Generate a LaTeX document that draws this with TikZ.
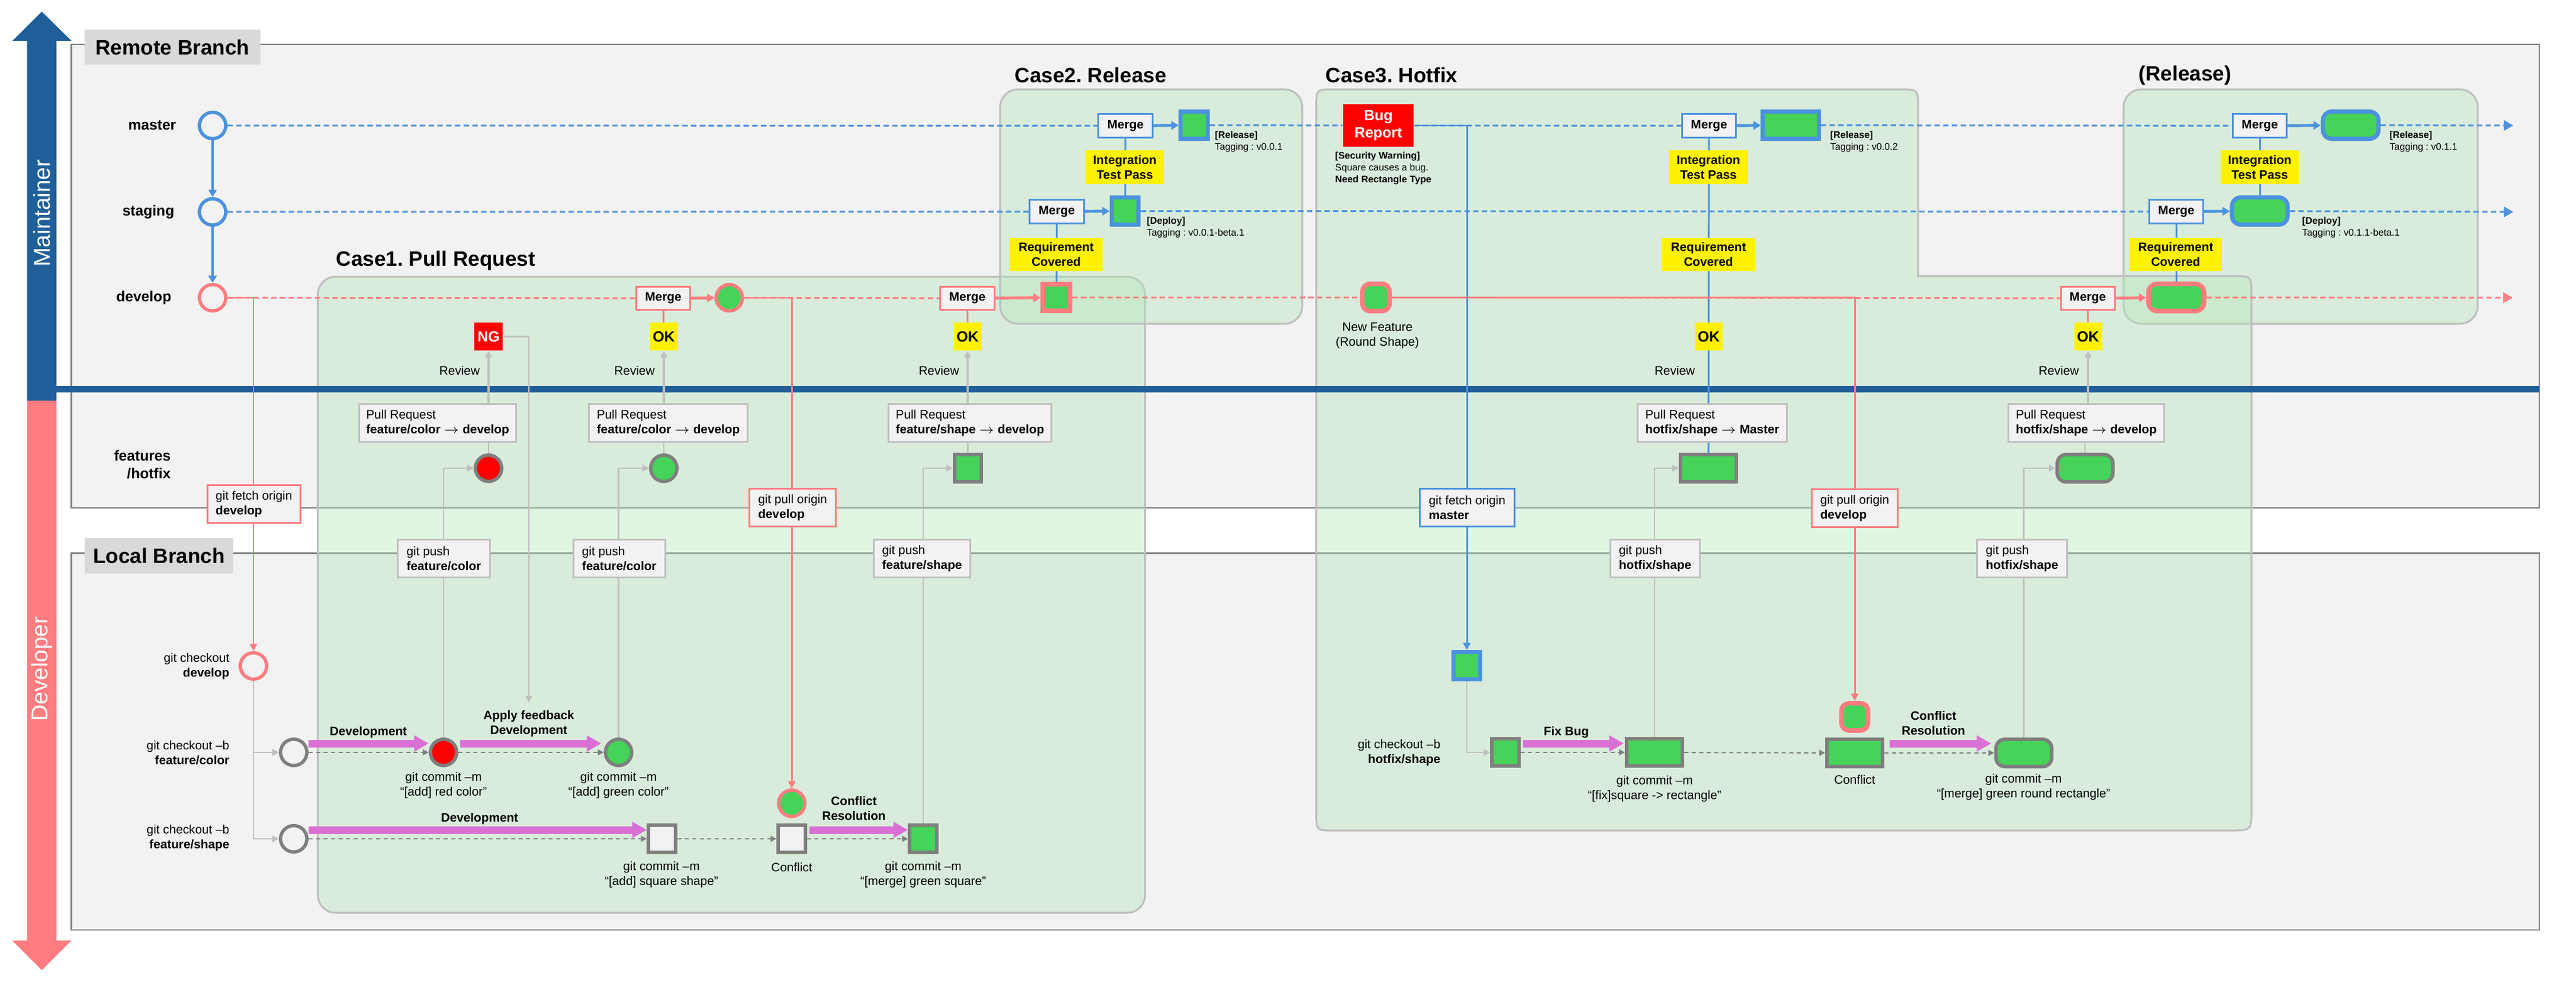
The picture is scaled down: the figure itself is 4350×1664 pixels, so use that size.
\documentclass[tikz,border=0pt]{standalone}
\usepackage{fontspec}
\setmainfont{Liberation Sans}
\usetikzlibrary{arrows.meta,calc}
\frenchspacing
\pgfdeclarelayer{frames}
\pgfdeclarelayer{cases}
\pgfdeclarelayer{lines}
\pgfsetlayers{frames,cases,lines,main}
\definecolor{mblue}{RGB}{33,95,154}
\definecolor{pinkA}{RGB}{255,124,128}
\definecolor{blueL}{RGB}{76,146,222}
\definecolor{greenF}{RGB}{69,211,90}
\definecolor{ngray}{RGB}{127,127,127}
\definecolor{lgray}{RGB}{191,191,191}
\definecolor{panel}{RGB}{242,242,242}
\definecolor{labelgray}{RGB}{217,217,217}
\definecolor{orchidA}{RGB}{218,112,214}
\definecolor{caseG}{RGB}{180,229,185}
\newcommand{\fzA}{\fontsize{5.9}{7.1}\selectfont}
\newcommand{\fzL}{\fontsize{7}{8.5}\selectfont}
\newcommand{\fzT}{\fontsize{10}{12}\selectfont}
\newcommand{\fzS}{\fontsize{4.6}{5.7}\selectfont}
\newcommand{\fzO}{\fontsize{7.1}{8.3}\selectfont}
\newcommand{\fzM}{\fontsize{11}{13}\selectfont}
\tikzset{
 lanelbl/.style={font=\fzL\bfseries, anchor=east, align=right, inner sep=0pt},
 cmdlbl/.style={font=\fzA, anchor=east, align=right, inner sep=0pt},
 txt/.style={font=\fzA, inner sep=0pt, align=center},
 btxt/.style={font=\fzA\bfseries, inner sep=0pt, align=center},
 smalltxt/.style={font=\fzS, inner sep=0pt, align=left, anchor=west},
 casetitle/.style={font=\fzT\bfseries, inner sep=0pt, anchor=west},
 mergebox/.style={rectangle, fill=panel, line width=0.85pt, minimum width=0.91cm, minimum height=0.39cm, font=\fzA\bfseries, inner sep=0pt},
 yel/.style={rectangle, fill=yellow, inner sep=0pt, font=\fzA\bfseries, align=center},
 okbox/.style={rectangle, fill=yellow, inner sep=0pt, font=\fzO\bfseries, minimum width=0.47cm, minimum height=0.47cm},
 cmdbox/.style={rectangle, fill=panel, line width=0.85pt, inner sep=0pt, minimum height=0.64cm, align=left, font=\fzA},
 cnode/.style={circle, minimum size=0.445cm, line width=1.6pt, inner sep=0pt},
 sqnode/.style={rectangle, minimum width=0.455cm, minimum height=0.455cm, inner sep=0pt, line width=1.7pt},
 rctnode/.style={rectangle, minimum width=0.94cm, minimum height=0.46cm, inner sep=0pt, line width=1.7pt},
 rrnode/.style={rctnode, rounded corners=0.15cm},
 bluebd/.style={draw=blueL, line width=2pt},
 pinkbd/.style={draw=pinkA, line width=2.2pt},
 graybd/.style={draw=ngray, line width=1.7pt},
 casebox/.style={draw=lgray, line width=0.9pt, fill=caseG, fill opacity=0.4},
 tipS/.style={-{Triangle[length=3.5pt,width=3.5pt]}},
 tipE/.style={-{Triangle[length=4.5pt,width=5pt]}},
 bdash/.style={draw=blueL, line width=0.85pt, dash pattern=on 2.6pt off 1.6pt},
 pdash/.style={draw=pinkA, line width=0.85pt, dash pattern=on 2.6pt off 1.6pt},
 bline/.style={draw=blueL, line width=0.85pt},
 pline/.style={draw=pinkA, line width=0.85pt},
 barrow/.style={draw=blueL, line width=1.4pt, -{Triangle[length=3.5pt,width=4pt]}},
 parrow/.style={draw=pinkA, line width=1.4pt, -{Triangle[length=3.5pt,width=4pt]}},
 gline/.style={draw=lgray, line width=0.7pt},
 garrow/.style={draw=lgray, line width=0.7pt, -{Triangle[length=3.2pt,width=3.2pt]}},
 gdash/.style={draw=ngray, line width=0.6pt, dash pattern=on 2pt off 1.6pt, -{Triangle[length=2.8pt,width=2.8pt]}},
 devarrow/.style={draw=orchidA, line width=3.7pt, -{Triangle[length=7pt,width=7.4pt]}}
}
\begin{document}
\begin{tikzpicture}[x=0.01cm,y=-0.01cm]
\useasboundingbox (0,0) rectangle (4350,1664);

% ---------- frames ----------
\begin{pgfonlayer}{frames}
\draw[draw=ngray, line width=0.8pt, fill=panel] (120.7,75) rectangle (4288,858);
\draw[draw=ngray, line width=0.8pt, fill=panel] (120.7,934.5) rectangle (4288,1571);
\fill[mblue] (45.6,677) -- (45.6,69) -- (21,69) -- (70.5,19.6) -- (120.7,69) -- (95.4,69) -- (95.4,677) -- cycle;
\fill[pinkA] (45.6,677) -- (45.6,1589) -- (21,1589) -- (70.5,1639) -- (120.7,1589) -- (95.4,1589) -- (95.4,677) -- cycle;
\end{pgfonlayer}
\node[rotate=90, text=white, font=\fzM, inner sep=0pt] (mtxt) at (70.5,360) {Maintainer};
\node[rotate=90, text=white, font=\fzM, inner sep=0pt] (dtxt) at (70.5,1130) {Developer};
\node[fill=labelgray, minimum width=2.97cm, minimum height=0.59cm, font=\fzT\bfseries, inner sep=0pt] (rbl) at (291.5,79.5) {Remote Branch};
\node[fill=labelgray, minimum width=2.51cm, minimum height=0.60cm, font=\fzT\bfseries, inner sep=0pt] (lbl) at (268.5,939) {Local Branch};

% ---------- case boxes ----------
\begin{pgfonlayer}{cases}
\path[casebox, rounded corners=0.3cm] (536.7,467.4) rectangle (1933.6,1542);
\path[casebox, rounded corners=0.3cm] (1689,151) rectangle (2199,547);
\path[casebox, rounded corners=0.3cm] (3586,151) rectangle (4184,547);
\path[casebox] (2222.7,181) .. controls (2222.7,151) .. (2252.7,151)
  -- (3209,151) .. controls (3239,151) .. (3239,181)
  -- (3239,466.5) -- (3772,466.5) .. controls (3802,466.5) .. (3802,496.5)
  -- (3802,1366) .. controls (3802,1403) .. (3765,1403)
  -- (2252.7,1403) .. controls (2222.7,1403) .. (2222.7,1373) -- cycle;
\end{pgfonlayer}
\node[casetitle] (t1) at (567,440) {Case1. Pull Request};
\node[casetitle] (t2) at (1713,127) {Case2. Release};
\node[casetitle] (t3) at (2238,127) {Case3. Hotfix};
\node[casetitle] (t4) at (3611,127) {(Release)};

% ---------- remote lanes ----------
\node[cnode, draw=blueL, fill=panel] (mC) at (359,212) {};
\node[cnode, draw=blueL, fill=panel] (sC) at (359,358) {};
\node[cnode, draw=pinkA, fill=panel] (dC) at (359,503) {};
\node[lanelbl] (mL) at (298,212) {master};
\node[lanelbl] (sL) at (295,358) {staging};
\node[lanelbl] (dL) at (290,503) {develop};
\node[lanelbl] (fL) at (289,785) {features\\/hotfix};
\coordinate (mEnd) at (4244,212);
\coordinate (sEnd) at (4244,358);
\coordinate (dEnd) at (4243,503);

% ---------- case 1 ----------
\node[mergebox, draw=pinkA] (m1) at (1120,504) {Merge};
\node[okbox] (ok1) at (1121,568.5) {OK};
\node[txt] (rv1) at (1071.5,626) {Review};
\node[cnode, draw=pinkA, fill=greenF] (g1) at (1231.5,503) {};
\node[mergebox, draw=pinkA] (m2) at (1633.5,504) {Merge};
\node[okbox] (ok2) at (1634,568.5) {OK};
\node[txt] (rv2) at (1585.5,626) {Review};
\node[rectangle, fill=red, text=white, minimum width=0.48cm, minimum height=0.47cm, font=\fzO\bfseries, inner sep=0pt] (ng) at (825,568.5) {NG};
\node[txt] (rv0) at (776,626) {Review};
\node[cmdbox, draw=lgray, minimum width=2.65cm] (pr1) at (739,714.5) {Pull Request\\\textbf{feature/color $\rightarrow$ develop}};
\node[cmdbox, draw=lgray, minimum width=2.68cm] (pr2) at (1128.5,714.5) {Pull Request\\\textbf{feature/color $\rightarrow$ develop}};
\node[cmdbox, draw=lgray, minimum width=2.755cm] (pr3) at (1638,714.5) {Pull Request\\\textbf{feature/shape $\rightarrow$ develop}};
\node[cnode, draw=ngray, fill=red] (fc1) at (825,791) {};
\node[cnode, draw=ngray, fill=greenF] (fc2) at (1121,791) {};
\node[sqnode, graybd, fill=greenF] (fs3) at (1634.5,791) {};
\node[cmdbox, draw=pinkA, minimum width=1.57cm] (fe1) at (428.8,851.5) {git fetch origin\\\textbf{develop}};
\node[cmdbox, draw=pinkA, minimum width=1.46cm] (pl1) at (1338.5,857.5) {git pull origin\\\textbf{develop}};
\node[cmdbox, draw=lgray, minimum width=1.55cm] (ps1) at (749.5,943.6) {git push\\\textbf{feature/color}};
\node[cmdbox, draw=lgray, minimum width=1.55cm] (ps2) at (1045.7,943.6) {git push\\\textbf{feature/color}};
\node[cmdbox, draw=lgray, minimum width=1.63cm] (ps3) at (1557,943.6) {git push\\\textbf{feature/shape}};

\node[cnode, draw=pinkA, fill=panel] (cd) at (428,1125) {};
\node[cmdlbl] (cdl) at (388,1125.5) {git checkout\\\textbf{develop}};
\node[cnode, draw=ngray, fill=panel] (sc) at (496,1271) {};
\node[cnode, draw=ngray, fill=panel] (ss) at (496,1417) {};
\node[cmdlbl] (scl) at (388,1272) {git checkout –b\\\textbf{feature/color}};
\node[cmdlbl] (ssl) at (388,1416) {git checkout –b\\\textbf{feature/shape}};
\node[cnode, draw=ngray, fill=red] (rc) at (749,1271) {};
\node[txt] (rcl) at (749,1326.5) {git commit –m\\“[add] red color”};
\node[cnode, draw=ngray, fill=greenF] (gc) at (1044.5,1271) {};
\node[txt] (gcl) at (1044.5,1326.5) {git commit –m\\“[add] green color”};
\node[sqnode, graybd, fill=panel] (wsq) at (1118,1417) {};
\node[txt] (wsql) at (1117,1477.5) {git commit –m\\“[add] square shape”};
\node[sqnode, graybd, fill=panel] (cf1) at (1337,1417) {};
\node[txt] (cf1l) at (1337,1465) {Conflict};
\node[cnode, draw=pinkA, fill=greenF] (pg) at (1337,1357) {};
\node[sqnode, graybd, fill=greenF] (gsq) at (1559,1417) {};
\node[txt] (gsql) at (1559,1477.5) {git commit –m\\“[merge] green square”};
\node[btxt] (a1) at (622,1237) {Development};
\node[btxt] (a2) at (893,1223) {Apply feedback\\Development};
\node[btxt] (a3) at (810,1383) {Development};
\node[btxt] (a4) at (1442,1365.5) {Conflict\\Resolution};
\coordinate (fbEnd) at (893,1187);

% ---------- case 2 ----------
\node[mergebox, draw=blueL] (mm2) at (1900.5,212.5) {Merge};
\node[sqnode, bluebd, fill=greenF] (rel2) at (2016.5,211.5) {};
\node[yel, minimum width=1.33cm, minimum height=0.57cm] (itp2) at (1899.5,282.5) {Integration\\Test Pass};
\node[mergebox, draw=blueL] (ms2) at (1784.5,357.5) {Merge};
\node[sqnode, bluebd, fill=greenF] (dep2) at (1900,356.5) {};
\node[yel, minimum width=1.57cm, minimum height=0.565cm] (rq2) at (1783.5,430) {Requirement\\Covered};
\node[sqnode, pinkbd, fill=greenF] (dv2) at (1784,502.5) {};
\node[smalltxt] (tg2) at (2051,239) {\textbf{[Release]}\\Tagging : v0.0.1};
\node[smalltxt] (tg2b) at (1936,384) {\textbf{[Deploy]}\\Tagging : v0.0.1-beta.1};

% ---------- case 3 ----------
\node[rectangle, fill=red, text=white, minimum width=1.19cm, minimum height=0.72cm, font=\fzO\bfseries, align=center, inner sep=0pt] (bug) at (2327.5,212) {Bug\\Report};
\node[smalltxt] (sec) at (2254,284) {\textbf{[Security Warning]}\\Square causes a bug.\\\textbf{Need Rectangle Type}};
\node[rrnode, pinkbd, fill=greenF, minimum width=0.46cm, minimum height=0.46cm, rounded corners=0.13cm] (nf) at (2323.6,502.5) {};
\node[txt] (nfl) at (2326,567) {New Feature\\(Round Shape)};
\node[mergebox, draw=blueL] (mm3) at (2886,212.5) {Merge};
\node[rctnode, bluebd, fill=greenF] (rel3) at (3024,211.5) {};
\node[smalltxt] (tg3) at (3090,239) {\textbf{[Release]}\\Tagging : v0.0.2};
\node[yel, minimum width=1.34cm, minimum height=0.57cm] (itp3) at (2885,282.5) {Integration\\Test Pass};
\node[yel, minimum width=1.575cm, minimum height=0.565cm] (rq3) at (2885,430) {Requirement\\Covered};
\node[okbox] (ok3) at (2885.5,568.5) {OK};
\node[txt] (rv3) at (2828,626) {Review};
\node[cmdbox, draw=lgray, minimum width=2.52cm] (pr4) at (2891.5,714.5) {Pull Request\\\textbf{hotfix/shape $\rightarrow$ Master}};
\node[rctnode, graybd, fill=greenF] (fr3) at (2885,791) {};
\node[cmdbox, draw=blueL, minimum width=1.60cm] (fe3) at (2477.5,857.5) {git fetch origin\\\textbf{master}};
\node[sqnode, bluebd, fill=greenF] (bsq) at (2477,1124.5) {};
\node[sqnode, graybd, fill=greenF] (hs) at (2542,1271) {};
\node[cmdlbl] (hsl) at (2433,1272) {git checkout –b\\\textbf{hotfix/shape}};
\node[rctnode, graybd, fill=greenF] (cr3) at (2794,1271) {};
\node[txt] (cr3l) at (2794,1332.5) {git commit –m\\“[fix]square -> rectangle”};
\node[cmdbox, draw=lgray, minimum width=1.51cm] (ps4) at (2795,943.6) {git push\\\textbf{hotfix/shape}};
\node[cmdbox, draw=pinkA, minimum width=1.45cm] (pl3) at (3132,858.7) {git pull origin\\\textbf{develop}};
\node[rrnode, pinkbd, fill=greenF, minimum width=0.45cm, minimum height=0.46cm, rounded corners=0.13cm] (prs) at (3132,1211) {};
\node[rctnode, graybd, fill=greenF] (cfr) at (3132,1272) {};
\node[txt] (cfrl) at (3132,1316.7) {Conflict};
\node[rrnode, graybd, fill=greenF] (mr) at (3417.5,1272) {};
\node[txt] (mrl) at (3417,1329.5) {git commit –m\\“[merge] green round rectangle”};
\node[cmdbox, draw=lgray, minimum width=1.52cm] (ps5) at (3414.5,943.6) {git push\\\textbf{hotfix/shape}};
\node[cmdbox, draw=lgray, minimum width=2.63cm] (pr5) at (3523,714.5) {Pull Request\\\textbf{hotfix/shape $\rightarrow$ develop}};
\node[rrnode, graybd, fill=greenF] (fr5) at (3521,791) {};
\node[btxt] (a5) at (2645,1237) {Fix Bug};
\node[btxt] (a6) at (3265,1222) {Conflict\\Resolution};

% ---------- release (4) ----------
\node[mergebox, draw=blueL] (mm4) at (3816,212.5) {Merge};
\node[rrnode, bluebd, fill=greenF] (rel4) at (3969.5,211.5) {};
\node[smalltxt] (tg4) at (4034.6,239) {\textbf{[Release]}\\Tagging : v0.1.1};
\node[yel, minimum width=1.326cm, minimum height=0.57cm] (itp4) at (3816,282.5) {Integration\\Test Pass};
\node[mergebox, draw=blueL] (ms4) at (3675,357.5) {Merge};
\node[rrnode, bluebd, fill=greenF] (dep4) at (3816,356.5) {};
\node[smalltxt] (tg4b) at (3887,384) {\textbf{[Deploy]}\\Tagging : v0.1.1-beta.1};
\node[yel, minimum width=1.56cm, minimum height=0.565cm] (rq4) at (3674,430) {Requirement\\Covered};
\node[rrnode, pinkbd, fill=greenF] (dv4) at (3675,502.5) {};
\node[mergebox, draw=pinkA] (m5) at (3525.5,504) {Merge};
\node[okbox] (ok5) at (3526,568.5) {OK};
\node[txt] (rv5) at (3476.5,626) {Review};

% ---------- connectors ----------
\begin{pgfonlayer}{lines}
\fill[mblue] (95.4,652) rectangle (4288,663);
% master / staging
\draw[barrow] (mC) -- (sC);
\draw[barrow] (sC) -- (dC);
\draw[bdash] (mC) -- (mm2);
\draw[barrow] (mm2) -- (rel2);
\draw[bdash] (rel2) -- (bug);
\draw[bdash] (bug) -- (mm3);
\draw[barrow] (mm3) -- (rel3);
\draw[bdash] (rel3) -- (mm4);
\draw[barrow] (mm4) -- (rel4);
\draw[bdash, tipE] (rel4) -- (mEnd);
\draw[bdash] (sC) -- (ms2);
\draw[barrow] (ms2) -- (dep2);
\draw[bdash] (dep2) -- (ms4);
\draw[barrow] (ms4) -- (dep4);
\draw[bdash, tipE] (dep4) -- (sEnd);
\draw[bline] (mm2) -- (dep2);
\draw[bline] (ms2) -- (dv2);
\draw[bline] (mm3) -- (fr3);
\draw[bline] (mm4) -- (dep4);
\draw[bline] (ms4) -- (dv4);
\draw[bline, tipS] (bug.east) -| (bsq.north);
% develop
\draw[pdash] (dC) -- (m1);
\draw[pline, tipS] (dC.east) -| (cd.north);
\draw[parrow] (m1) -- (g1);
\draw[pdash] (g1) -- (m2);
\draw[pline, tipS] (g1.east) -| (pg.north);
\draw[parrow] (m2) -- (dv2);
\draw[pdash] (dv2) -- (nf);
\draw[pdash] (nf) -- (m5);
\draw[pline, tipS] (nf.east) -| (prs.north);
\draw[parrow] (m5) -- (dv4);
\draw[pdash, tipE] (dv4) -- (dEnd);
\draw[pline] (m1) -- (ok1);
\draw[pline] (m2) -- (ok2);
\draw[pline] (m5) -- (ok5);
% review / pull requests
\draw[garrow, line width=0.9pt] (pr1.north -| ng) -- (ng.south);
\draw[garrow, line width=0.9pt] (pr2.north -| ok1) -- (ok1.south);
\draw[garrow, line width=0.9pt] (pr3.north -| ok2) -- (ok2.south);
\draw[garrow, line width=0.9pt] (pr5.north -| ok5) -- (ok5.south);
\draw[gline] (pr1.south -| fc1) -- (fc1.north);
\draw[gline] (pr2.south -| fc2) -- (fc2.north);
\draw[gline] (pr3.south -| fs3) -- (fs3.north);
\draw[gline] (pr5.south -| fr5) -- (fr5.north);
\draw[garrow] (ng.east) -| (fbEnd);
% pushes
\draw[garrow] (rc.north) |- (fc1.west);
\draw[garrow] (gc.north) |- (fc2.west);
\draw[garrow] (gsq.north) |- (fs3.west);
\draw[garrow] (cr3.north) |- (fr3.west);
\draw[garrow] (mr.north) |- (fr5.west);
% local
\draw[garrow] (cd.south) |- (sc.west);
\draw[garrow] (cd.south) |- (ss.west);
\draw[garrow] (bsq.south) |- (hs.west);
\draw[gdash] (sc) -- (rc);
\draw[gdash] (rc) -- (gc);
\draw[gdash] (ss) -- (wsq);
\draw[gdash] (wsq) -- (cf1);
\draw[gdash] (cf1) -- (gsq);
\draw[gdash] (hs) -- (cr3);
\draw[gdash] (cr3) -- (cfr);
\draw[gdash] (cfr) -- (mr);
\draw[devarrow] ($(sc.east)+(0,-15)$) -- ($(rc.west)+(0,-15)$);
\draw[devarrow] ($(rc.east)+(3,-15)$) -- ($(gc.west)+(-4,-15)$);
\draw[devarrow] ($(ss.east)+(0,-15)$) -- ($(wsq.west)+(0,-15)$);
\draw[devarrow] ($(cf1.east)+(4,-15)$) -- ($(gsq.west)+(0,-15)$);
\draw[devarrow] ($(hs.east)+(4,-15)$) -- ($(cr3.west)+(-2,-15)$);
\draw[devarrow] ($(cfr.east)+(9,-16)$) -- ($(mr.west)+(-5,-16)$);
\end{pgfonlayer}
\end{tikzpicture}
\end{document}
